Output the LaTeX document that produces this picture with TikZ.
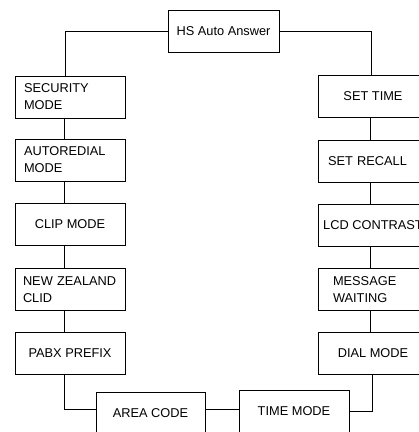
\documentclass[tikz,border=0pt]{standalone}
\usepackage{fontspec}
\setmainfont{Liberation Sans}
\usepackage{tikz}
\usetikzlibrary{positioning,calc}
\tikzset{
  menu/.style={draw, line width=0.9bp, minimum width=110bp, minimum height=42bp, inner sep=2bp,
    font=\fontsize{12.8bp}{17bp}\selectfont},
  menutwo/.style={menu, text width=92bp, inner xsep=9bp, align=left},
  link/.style={line width=0.9bp}
}
\begin{document}
\begin{tikzpicture}[x=1bp, y=-1bp]
    \useasboundingbox (0,0) rectangle (419,432);
    \clip (0,0) rectangle (419,432);
    \node[menu, minimum width=111bp] (hs) at (223.5,31) {HS Auto Answer};
    % left column
    \node[menutwo] (security) at (70,97) {SECURITY\\MODE};
    \node[menutwo] (autoredial) at (70,160) {AUTOREDIAL\\MODE};
    \node[menu] (clip) at (70,224) {CLIP MODE};
    \node[menutwo, text width=94bp, inner xsep=8bp] (nzclid) at (70,289.5) {NEW ZEALAND\\CLID};
    \node[menu] (pabx) at (70,353) {PABX PREFIX};
    % bottom row
    \node[menu, minimum width=109bp] (area) at (150.5,413) {AREA CODE};
    \node[menu] (timemode) at (294,411) {TIME MODE};
    % right column
    \node[menu] (settime) at (373,96.5) {SET TIME};
    \node[menutwo, text width=90bp, inner xsep=10bp] (setrecall) at (373,161) {SET RECALL};
    \node[menu] (lcd) at (373,225.5) {LCD CONTRAST};
    \node[menutwo, text width=80bp, inner xsep=15bp] (message) at (373,289.5) {MESSAGE\\WAITING};
    \node[menu] (dial) at (373,353.5) {DIAL MODE};
    \draw[link] (hs.west) -| ([xshift=-5bp]security.north);
    \draw[link] ([xshift=-6bp]security.south) -- ([xshift=-6bp]autoredial.north);
    \draw[link] ([xshift=-6bp]autoredial.south) -- ([xshift=-6bp]clip.north);
    \draw[link] ([xshift=-6bp]clip.south) -- ([xshift=-6bp]nzclid.north);
    \draw[link] ([xshift=-6bp]nzclid.south) -- ([xshift=-6bp]pabx.north);
    \draw[link] ([xshift=-6bp]pabx.south) |- ([yshift=4bp]area.west);
    \draw[link] ([yshift=4bp]area.east) -- ([yshift=4bp]area.east -| timemode.west);
    \draw[link] (timemode.east) -| ([xshift=-1bp]dial.south);
    \draw[link] (hs.east) -| ([xshift=-2bp]settime.north);
    \draw[link] ([xshift=-3bp]settime.south) -- ([xshift=-3bp]setrecall.north);
    \draw[link] ([xshift=-3bp]setrecall.south) -- ([xshift=-3bp]lcd.north);
    \draw[link] ([xshift=-3bp]lcd.south) -- ([xshift=-3bp]message.north);
    \draw[link] ([xshift=-3bp]message.south) -- ([xshift=-3bp]dial.north);
\end{tikzpicture}
\end{document}
